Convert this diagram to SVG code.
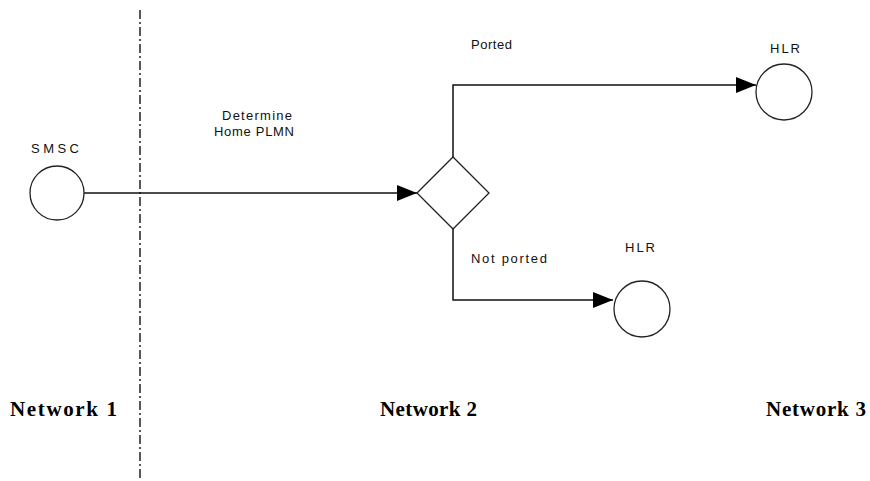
<svg xmlns="http://www.w3.org/2000/svg" width="870" height="481" viewBox="0 0 870 481">
<style>
.n{fill:#fff;stroke:#222;stroke-width:1.3}
.c{fill:none;stroke:#111;stroke-width:1.5}
.t{font-family:"Liberation Sans",Arial,sans-serif;font-size:13px;fill:#111}
.b{font-family:"Liberation Serif","Times New Roman",serif;font-size:21px;font-weight:bold;fill:#000}
</style>
<defs>
<marker id="ah" markerUnits="userSpaceOnUse" markerWidth="20" markerHeight="16" refX="20" refY="8" orient="auto">
<path d="M0,0 L20,8 L0,16 z" fill="#000"/>
</marker>
</defs>
<rect width="870" height="481" fill="#fff"/>
<line x1="140" y1="10" x2="140" y2="480" stroke="#222" stroke-width="1.5" stroke-dasharray="9 3 2 3"/>
<g id="connectors">
<line class="c" x1="84" y1="193" x2="417" y2="193" marker-end="url(#ah)"/>
<polyline class="c" points="453,158 453,85 756,85" marker-end="url(#ah)"/>
<polyline class="c" points="453,228 453,300 613,300" marker-end="url(#ah)"/>
</g>
<g id="smsc">
<circle class="n" cx="57" cy="193" r="27"/>
<text class="t" x="31" y="153" textLength="48">SMSC</text>
</g>
<g id="decision">
<polygon class="n" points="417,193 453,157 489,193 453,229"/>
</g>
<g id="hlr1">
<circle class="n" cx="784" cy="92" r="28"/>
<text class="t" x="770" y="53" textLength="30">HLR</text>
</g>
<g id="hlr2">
<circle class="n" cx="642" cy="309" r="28"/>
<text class="t" x="625" y="252" textLength="30">HLR</text>
</g>
<g id="labels">
<text class="t" x="222" y="120" textLength="70">Determine</text>
<text class="t" x="214" y="136" textLength="80">Home PLMN</text>
<text class="t" x="471" y="49" textLength="41">Ported</text>
<text class="t" x="471" y="263" textLength="76">Not ported</text>
<text class="b" x="10" y="416" textLength="107">Network 1</text>
<text class="b" x="380" y="416" textLength="97">Network 2</text>
<text class="b" x="766" y="416" textLength="100">Network 3</text>
</g>
</svg>
